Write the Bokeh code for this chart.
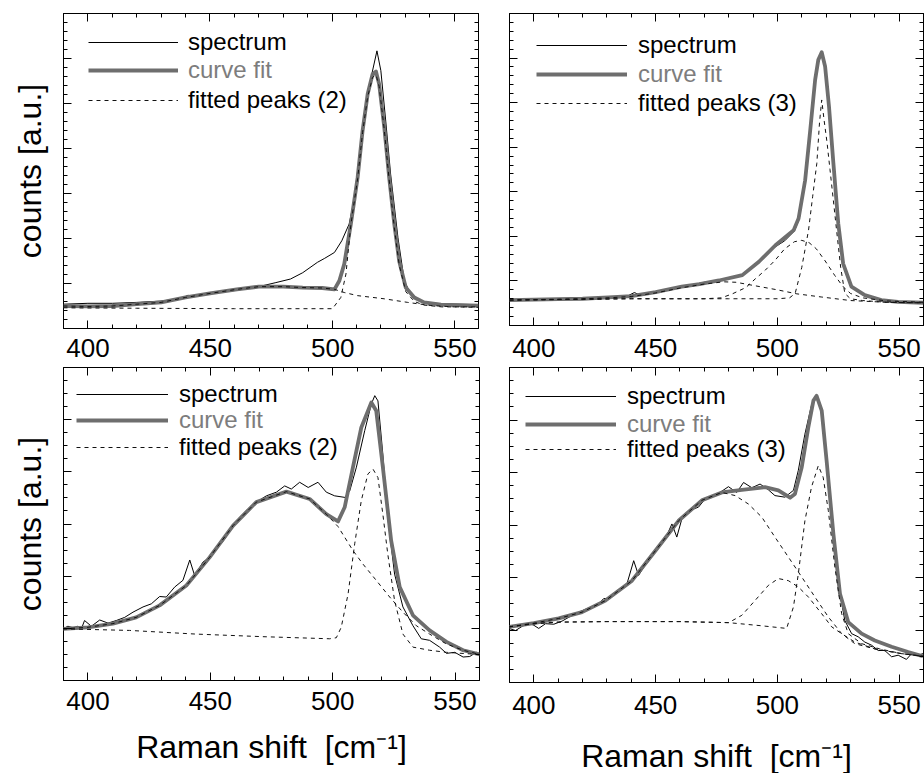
from bokeh.plotting import figure
from bokeh.models import (Range1d, LinearAxis, SingleIntervalTicker, Legend, LegendItem,
                          CustomJSTickFormatter, CustomLabelingPolicy)
from bokeh.layouts import column, row
from bokeh.embed import file_html
from bokeh.resources import INLINE

FONT = "Liberation Sans"
FIT_COLOR = "#6e6e6e"
LABEL_GRAY = "#7d7d7d"

X_TICK_LABELS = ["400", "450", "500", "550"]
LEGEND_LABELS_2 = ["spectrum", "curve fit", "fitted peaks (2)"]
LEGEND_LABELS_3 = ["spectrum", "curve fit", "fitted peaks (3)"]
X_TITLE = "Raman shift\u00a0 [cm\u207b\u00b9]"
Y_TITLE = "counts [a.u.]"

# ---------------- top-left panel (2 peaks) ----------------
tl_spec_x = [390, 400, 410, 420, 430, 438, 441, 443, 450, 461, 470, 477, 483, 488, 494, 497, 501, 504, 507,
             509, 511, 513, 516, 518.4, 520, 522, 524, 527, 529.6, 532.3, 536.4, 542, 550, 560]
tl_spec_y = [0.54, 0.56, 0.56, 0.58, 0.61, 0.66, 0.74, 0.70, 0.78, 0.85, 0.93, 1.02, 1.10, 1.24, 1.47, 1.56, 1.69,
             1.95, 2.32, 2.84, 3.73, 4.69, 5.58, 6.17, 5.73, 4.61, 3.43, 2.02, 1.06, 0.76, 0.61, 0.56, 0.54, 0.53]
tl_fit_x = [390, 400, 410, 420, 430, 440, 450, 461, 470, 480, 488, 496, 501, 503, 505, 507.7, 510.5, 512.5,
            514.6, 516.6, 518, 519.3, 521.4, 523.4, 525.5, 527.5, 530.2, 533.7, 537.7, 544.6, 560]
tl_fit_y = [0.50, 0.49, 0.50, 0.54, 0.58, 0.69, 0.78, 0.87, 0.93, 0.93, 0.91, 0.90, 0.87, 1.06, 1.43, 2.32, 3.36,
            4.39, 5.21, 5.65, 5.71, 5.43, 4.47, 3.36, 2.32, 1.50, 0.91, 0.69, 0.58, 0.53, 0.51]
tl_pk1_x = [390, 400, 410, 420, 430, 440, 450, 461, 470, 480, 488, 496, 501, 505, 510.5, 521.4, 531, 540.5, 550, 560]
tl_pk1_y = [0.50, 0.49, 0.50, 0.54, 0.58, 0.69, 0.78, 0.87, 0.93, 0.93, 0.91, 0.90, 0.87, 0.80, 0.73, 0.66, 0.58,
            0.51, 0.48, 0.47]
tl_pk2_x = [390, 420, 460, 500.2, 503.6, 505.7, 507.7, 510.5, 512.5, 514.6, 516.6, 518, 519.3, 521.4, 523.4,
            525.5, 527.5, 530.2, 533.7, 537.7, 545, 560]
tl_pk2_y = [0.46, 0.45, 0.44, 0.44, 0.69, 1.21, 2.30, 3.33, 4.35, 5.15, 5.58, 5.64, 5.38, 4.42, 3.30, 2.25, 1.42,
            0.82, 0.60, 0.52, 0.48, 0.48]

# ---------------- top-right panel (3 peaks) ----------------
tr_spec_x = [390, 396, 402, 410, 420, 430, 438, 441.3, 444, 450, 460, 470, 476, 485, 492, 499, 503, 507, 509,
             511.4, 513.5, 515.5, 516.8, 518.2, 519.6, 521.2, 523, 525, 527, 530.4, 536, 543, 550, 560]
tr_spec_y = [0.56, 0.57, 0.57, 0.58, 0.60, 0.62, 0.65, 0.74, 0.67, 0.74, 0.86, 0.97, 1.00, 1.12, 1.41, 1.76, 1.90,
             2.12, 2.40, 3.24, 4.40, 5.52, 5.97, 6.14, 5.80, 4.90, 3.62, 2.28, 1.40, 0.88, 0.67, 0.56, 0.53, 0.50]
tr_fit_x = [390, 400, 410, 420, 430.7, 440, 450, 460.7, 468, 476, 485.6, 492.4, 499.2, 506.7, 508.7, 511.4,
            513.5, 515.5, 516.8, 518.2, 519.6, 521.2, 523, 525, 527, 530.4, 535.9, 542.7, 549.5, 560]
tr_fit_y = [0.57, 0.58, 0.59, 0.60, 0.63, 0.66, 0.75, 0.87, 0.93, 1.01, 1.13, 1.43, 1.80, 2.14, 2.40, 3.26, 4.39,
            5.51, 5.96, 6.13, 5.81, 4.91, 3.64, 2.29, 1.39, 0.87, 0.68, 0.57, 0.53, 0.51]
tr_pka_x = [390, 400, 410, 420, 430, 440, 450, 460, 470, 478, 483, 490, 494, 500, 508, 518, 530, 545, 560]
tr_pka_y = [0.57, 0.58, 0.59, 0.60, 0.62, 0.65, 0.73, 0.84, 0.93, 0.98, 0.97, 0.90, 0.86, 0.80, 0.71, 0.64, 0.56,
            0.52, 0.51]
tr_pkb_x = [390, 420, 440, 470, 477, 481.5, 487, 491, 495, 499, 503, 507, 510, 513, 516, 519.6, 523.6, 527, 530,
            535, 545, 560]
tr_pkb_y = [0.57, 0.59, 0.60, 0.60, 0.62, 0.71, 0.85, 1.05, 1.24, 1.46, 1.72, 1.88, 1.91, 1.86, 1.72, 1.45, 1.12,
            0.87, 0.72, 0.62, 0.55, 0.52]
tr_pkc_x = [390, 440, 480, 500, 505, 507.3, 510, 512.8, 514.5, 516.2, 517.3, 518.2, 519.2, 520.4, 521.6, 523,
            524.3, 526, 527.7, 530, 535, 545, 560]
tr_pkc_y = [0.57, 0.60, 0.60, 0.60, 0.62, 0.72, 1.30, 2.14, 2.90, 3.64, 4.55, 5.06, 4.60, 4.10, 3.50, 2.80, 2.14,
            1.30, 0.72, 0.60, 0.56, 0.52, 0.51]

# ---------------- bottom-left panel (2 peaks) ----------------
bl_spec_x = [389.8, 391.8, 393.9, 395.9, 397.3, 398.6, 401.4, 404.8, 408.2, 411.6, 415.0, 418.4, 422.5, 425.9,
             429.3, 432.0, 435.4, 438.8, 441.6, 443.6, 447.0, 449.7, 452.5, 455.9, 458.6, 462.0, 465.4, 468.8,
             472.9, 477.0, 480.4, 483.1, 486.5, 490.0, 494.0, 497.4, 500.8, 505.0, 507.0, 509.7, 513.1, 515.8,
             517.2, 518.5, 520.5, 522.5, 525.3, 528.7, 532.8, 536.2, 539.6, 543.7, 546.5, 549.9, 553.3, 556.0,
             558.7, 560.1]
bl_spec_y = [0.99, 1.04, 1.01, 1.04, 0.99, 1.15, 1.04, 1.16, 1.10, 1.15, 1.21, 1.31, 1.41, 1.47, 1.61, 1.60,
             1.79, 1.92, 2.31, 2.01, 2.27, 2.36, 2.52, 2.71, 2.94, 3.13, 3.29, 3.42, 3.54, 3.61, 3.73, 3.67, 3.80,
             3.70, 3.80, 3.61, 3.54, 3.51, 3.64, 4.09, 4.79, 5.30, 5.46, 5.36, 4.34, 3.13, 2.04, 1.41, 1.05, 0.80,
             0.77, 0.64, 0.52, 0.54, 0.45, 0.46, 0.54, 0.51]
bl_fit_x = [389.8, 400, 410.2, 419.7, 429.3, 440.2, 449.7, 459.3, 468.8, 481.1, 490.6, 497.4, 502.2, 504.9,
            508.3, 511.7, 515.8, 517.8, 520.5, 523.9, 527.4, 532.8, 539.6, 546.5, 553.3, 560.1]
bl_fit_y = [0.99, 1.02, 1.09, 1.21, 1.44, 1.82, 2.36, 2.97, 3.42, 3.62, 3.48, 3.19, 3.05, 3.32, 4.09, 4.85, 5.33,
            5.17, 4.09, 2.68, 1.79, 1.25, 0.96, 0.74, 0.58, 0.50]
bl_pk1_x = [389.8, 400, 410.2, 419.7, 429.3, 440.2, 449.7, 459.3, 468.8, 481.1, 490.6, 497.4, 502.2, 508.3,
            512.4, 517.8, 523.3, 528.7, 534.2, 539.6, 546.5, 553.3, 560.1]
bl_pk1_y = [0.99, 1.02, 1.09, 1.21, 1.44, 1.82, 2.36, 2.97, 3.42, 3.62, 3.48, 3.19, 2.95, 2.49, 2.23, 1.92, 1.60,
            1.31, 1.05, 0.89, 0.70, 0.58, 0.50]
bl_pk2_x = [389.8, 417, 444, 471.5, 498.8, 501.5, 503.5, 506.3, 509, 511.7, 514.4, 516.5, 518.5, 520.5, 522.5,
            525.3, 528.7, 532.8, 539.6, 546.5, 556, 560.1]
bl_pk2_y = [0.99, 0.96, 0.89, 0.84, 0.80, 0.82, 1.02, 1.66, 2.62, 3.45, 3.96, 4.05, 3.89, 3.19, 2.43, 1.53, 0.89,
            0.64, 0.58, 0.54, 0.51, 0.50]

# ---------------- bottom-right panel (3 peaks) ----------------
br_spec_x = [389.8, 392.5, 395.2, 398.0, 400.0, 402.0, 404.8, 408.2, 411.6, 415.0, 418.4, 422.5, 426.0, 428.7,
             431.4, 434.8, 438.3, 441.0, 443.0, 446.4, 450.5, 454.0, 456.7, 458.7, 460.8, 464.2, 467.6, 470.4,
             473.1, 475.8, 479.9, 483.3, 486.1, 489.5, 492.9, 496.3, 499.0, 503.1, 506.6, 508.6, 511.3, 514.1,
             516.1, 518.2, 520.2, 523.0, 525.0, 527.7, 530.5, 533.2, 535.9, 538.7, 541.4, 544.1, 546.9, 549.6,
             553.0, 555.1, 557.8, 559.8]
br_spec_y = [1.03, 0.99, 1.07, 1.13, 1.09, 1.03, 1.12, 1.11, 1.17, 1.26, 1.34, 1.42, 1.47, 1.60, 1.60, 1.75, 1.89,
             2.32, 2.04, 2.29, 2.58, 2.74, 3.02, 2.77, 3.12, 3.28, 3.34, 3.50, 3.53, 3.60, 3.73, 3.62, 3.81, 3.71,
             3.78, 3.67, 3.56, 3.53, 3.66, 4.04, 4.73, 5.30, 5.46, 5.18, 4.23, 2.83, 1.88, 1.18, 0.93, 0.87, 0.77,
             0.71, 0.61, 0.61, 0.49, 0.52, 0.44, 0.55, 0.52, 0.55]
br_fit_x = [389.8, 400, 410.2, 419.8, 429.4, 440.3, 449.9, 459.4, 469, 477.2, 485.4, 494.9, 500.4, 505.2, 507.2,
            510, 512.7, 514.8, 516.1, 518.2, 520.2, 523, 525.7, 529.1, 534.6, 540, 546.9, 553.7, 559.8]
br_fit_y = [1.06, 1.13, 1.22, 1.34, 1.56, 1.94, 2.51, 3.08, 3.47, 3.62, 3.67, 3.72, 3.66, 3.52, 3.59, 4.10, 4.86,
            5.37, 5.46, 5.18, 4.23, 2.83, 1.69, 1.15, 0.93, 0.80, 0.68, 0.58, 0.50]
br_pka_x = [389.8, 400, 410.2, 419.8, 429.4, 440.3, 449.9, 459.4, 469, 477.2, 482.7, 488.1, 493.6, 499, 504.5,
            510, 515.4, 520.9, 526.4, 531.8, 540, 551, 559.8]
br_pka_y = [1.06, 1.13, 1.22, 1.34, 1.56, 1.94, 2.51, 3.08, 3.47, 3.62, 3.56, 3.40, 3.15, 2.77, 2.39, 2.01, 1.63,
            1.25, 0.93, 0.74, 0.64, 0.55, 0.50]
br_pkb_x = [389.8, 400, 410, 430, 460, 480, 485.4, 490.8, 496.3, 500.4, 504.5, 508.6, 512.7, 518.2, 522.3, 526.4,
            531.8, 540, 551, 559.8]
br_pkb_y = [1.06, 1.12, 1.15, 1.16, 1.16, 1.14, 1.28, 1.56, 1.85, 1.98, 1.94, 1.82, 1.63, 1.31, 1.06, 0.93, 0.77,
            0.64, 0.55, 0.50]
br_pkc_x = [389.8, 400, 410, 430, 460, 480, 493.6, 503.8, 506.6, 508.6, 511.3, 514, 516.8, 518.8, 520.9, 523.6,
            526.4, 529.1, 534.6, 542, 551, 559.8]
br_pkc_y = [1.06, 1.12, 1.15, 1.16, 1.16, 1.14, 1.08, 1.03, 1.44, 2.07, 3.08, 3.72, 4.13, 3.91, 3.28, 2.20, 1.31,
            0.93, 0.74, 0.64, 0.55, 0.50]


def add_axis(p, side, interval, minor, labels=False, label_size="26px", standoff=0,
             title=None, title_standoff=0):
    ax = LinearAxis(ticker=SingleIntervalTicker(interval=interval, num_minor_ticks=minor))
    ax.major_tick_in = 8
    ax.major_tick_out = 0
    ax.minor_tick_in = 4
    ax.minor_tick_out = 0
    ax.axis_line_color = None
    ax.major_tick_line_color = "black"
    ax.minor_tick_line_color = "black"
    if labels:
        ax.major_label_text_font = FONT
        ax.major_label_text_font_size = label_size
        ax.major_label_text_color = "black"
        ax.major_label_standoff = standoff
        ax.major_label_overrides = {400: X_TICK_LABELS[0], 450: X_TICK_LABELS[1],
                                    500: X_TICK_LABELS[2], 550: X_TICK_LABELS[3]}
    else:
        # ticks only: no tick labels on this side
        ax.formatter = CustomJSTickFormatter(code="return ''")
        ax.major_label_policy = CustomLabelingPolicy(code="""
            const n = indices.size
            for (let i = 0; i < n; i++) { indices.unset(i) }
            return indices
        """)
        ax.major_label_text_font_size = "1px"
        ax.major_label_standoff = 0
    if title:
        ax.axis_label = title
        ax.axis_label_text_font = FONT
        ax.axis_label_text_font_size = "32px"
        ax.axis_label_text_font_style = "normal"
        ax.axis_label_text_color = "black"
        ax.axis_label_standoff = title_standoff
    p.add_layout(ax, side)
    return ax


def make_panel(fw, fh, bl, br, bt, bb, ymax, yminor, spec, fit, peaks, labels, leg_vx, leg_vys,
               leg_gw, leg_standoff, x_top_labels, x_bottom_labels, bottom_standoff=8,
               xtitle_standoff=17, ytitle=False):
    p = figure(frame_width=fw, frame_height=fh, min_border_left=bl, min_border_right=br,
               min_border_top=bt, min_border_bottom=bb,
               x_range=Range1d(390, 560), y_range=Range1d(0, ymax),
               x_axis_location=None, y_axis_location=None,
               output_backend="svg", toolbar_location=None)
    p.xgrid.visible = False
    p.ygrid.visible = False
    p.outline_line_color = "black"
    p.outline_line_width = 1
    p.outline_line_alpha = 1
    p.background_fill_color = "white"
    p.border_fill_color = "white"

    add_axis(p, "left", 1, yminor, title=Y_TITLE if ytitle else None, title_standoff=16)
    add_axis(p, "right", 1, yminor)
    add_axis(p, "above", 50, 5, labels=x_top_labels, standoff=11)
    add_axis(p, "below", 50, 5, labels=x_bottom_labels, standoff=bottom_standoff,
             title=X_TITLE if x_bottom_labels else None, title_standoff=xtitle_standoff)

    r_spec = p.line(spec[0], spec[1], line_color="black", line_width=1)
    r_fit = p.line(fit[0], fit[1], line_color=FIT_COLOR, line_width=3.8, line_join="round")
    r_peaks = [p.line(pk[0], pk[1], line_color="#111111", line_width=1, line_dash="4 4")
               for pk in peaks]

    for r, lab, vy, col in zip([r_spec, r_fit, r_peaks[0]], labels, leg_vys,
                               ["black", LABEL_GRAY, "black"]):
        lg = Legend(items=[LegendItem(label=lab, renderers=[r])], location=(leg_vx, vy),
                    padding=0, margin=0, spacing=0, border_line_color=None,
                    background_fill_alpha=0, glyph_width=leg_gw, glyph_height=28,
                    label_height=28, label_standoff=leg_standoff,
                    label_text_font=FONT, label_text_font_size="24px", label_text_color=col)
        p.add_layout(lg)
    return p


p_tl = make_panel(415, 315, 63, 15, 9, 9, 7, 5,
                  (tl_spec_x, tl_spec_y), (tl_fit_x, tl_fit_y),
                  [(tl_pk1_x, tl_pk1_y), (tl_pk2_x, tl_pk2_y)],
                  LEGEND_LABELS_2, 25, [272, 244, 214], 90, 10, False, False, ytitle=True)
p_tr = make_panel(414, 312, 16, 1, 13, 8, 7, 5,
                  (tr_spec_x, tr_spec_y), (tr_fit_x, tr_fit_y),
                  [(tr_pka_x, tr_pka_y), (tr_pkb_x, tr_pkb_y), (tr_pkc_x, tr_pkc_y)],
                  LEGEND_LABELS_3, 27, [266, 237, 208], 91, 11, False, False)
p_bl = make_panel(416, 313, 63, 14, 34, 93, 6, 4,
                  (bl_spec_x, bl_spec_y), (bl_fit_x, bl_fit_y),
                  [(bl_pk1_x, bl_pk1_y), (bl_pk2_x, bl_pk2_y)],
                  LEGEND_LABELS_2, 13, [272, 246, 219], 92, 11, True, True,
                  bottom_standoff=11, xtitle_standoff=16, ytitle=True)
p_br = make_panel(414, 315, 16, 1, 34, 91, 6, 4,
                  (br_spec_x, br_spec_y), (br_fit_x, br_fit_y),
                  [(br_pka_x, br_pka_y), (br_pkb_x, br_pkb_y), (br_pkc_x, br_pkc_y)],
                  LEGEND_LABELS_3, 16, [272, 244, 219], 91, 11, True, True,
                  bottom_standoff=13, xtitle_standoff=21)

layout = column(row(p_tl, p_tr, spacing=0), row(p_bl, p_br, spacing=0), spacing=0)

with open("out.html", "w") as f:
    f.write(file_html(layout, INLINE))
